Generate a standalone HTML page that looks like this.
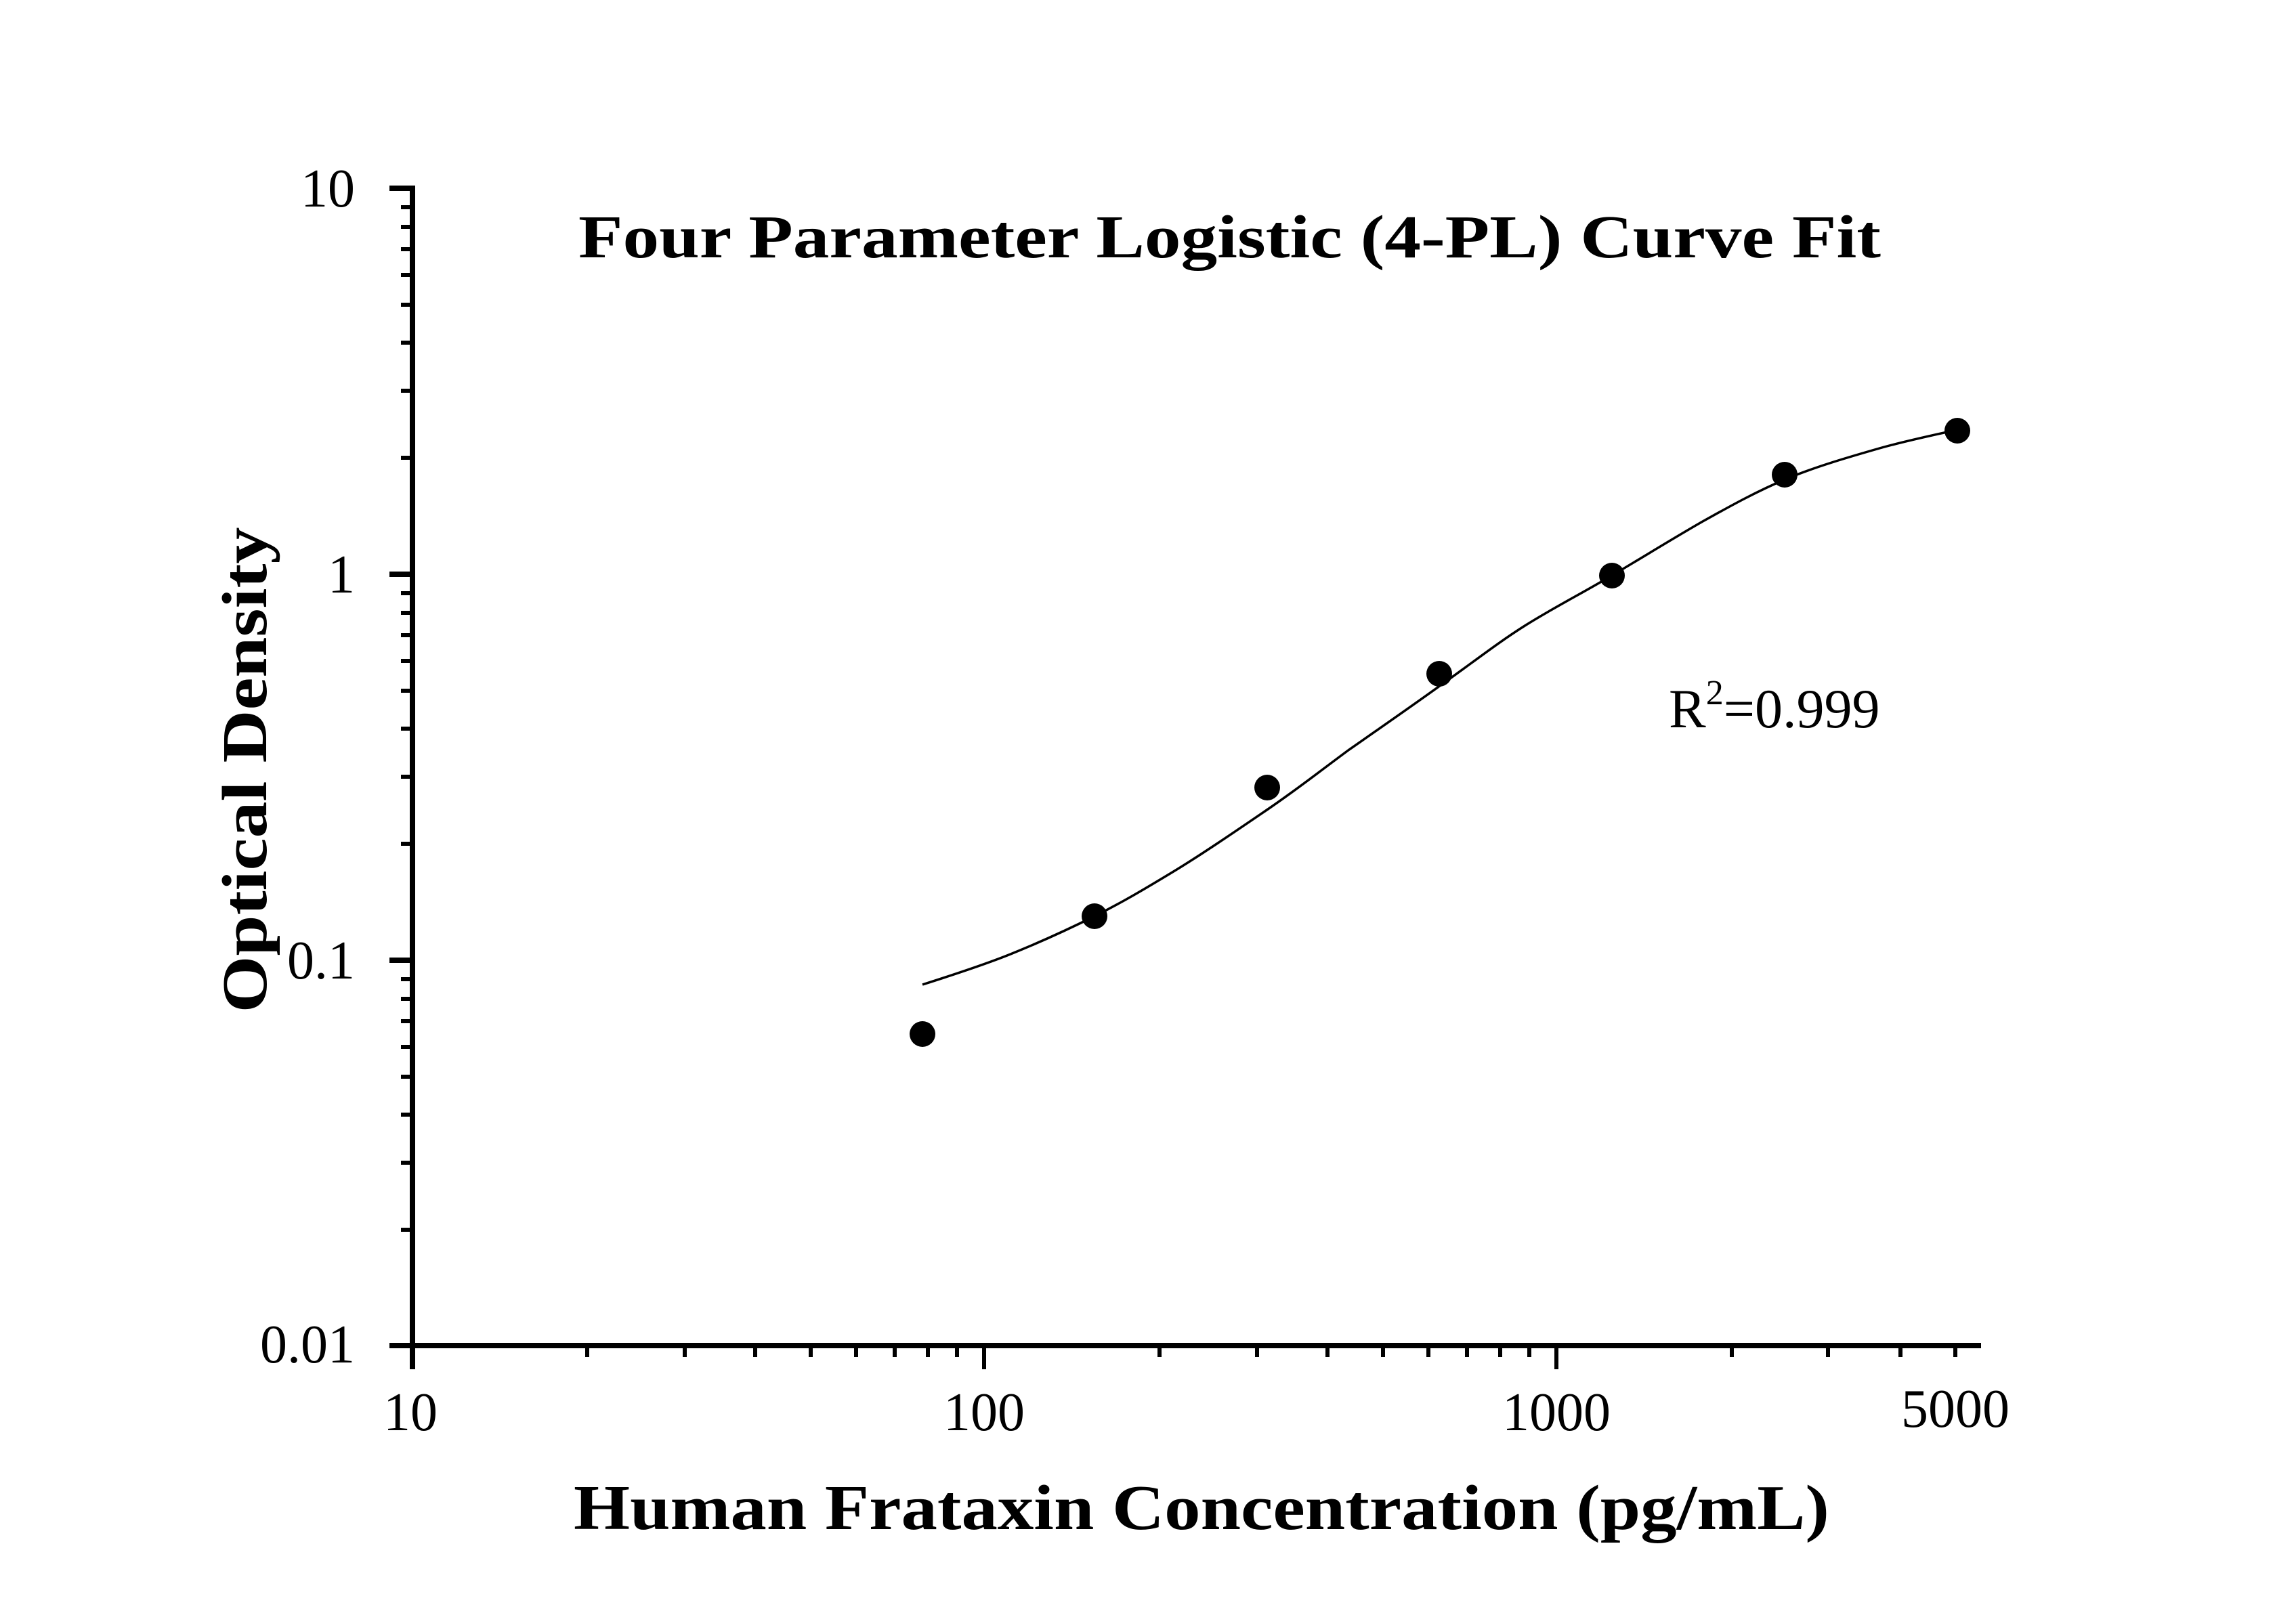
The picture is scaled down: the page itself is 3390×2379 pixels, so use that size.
<!DOCTYPE html>
<html><head><style>html,body{margin:0;padding:0;background:#fff}svg{display:block}</style></head>
<body>
<svg width="3390" height="2379" viewBox="0 0 3390 2379" xmlns="http://www.w3.org/2000/svg">
<g stroke="#000" stroke-width="8" fill="none">
<line x1="609" y1="274" x2="609" y2="2022"/>
<line x1="575" y1="1987" x2="2925" y2="1987"/>
<line x1="575" y1="278" x2="609" y2="278"/>
<line x1="575" y1="848" x2="609" y2="848"/>
<line x1="575" y1="1418" x2="609" y2="1418"/>
</g>
<g stroke="#000" stroke-width="6" fill="none">
<path d="
M592 306H609 M592 335H609 M592 368H609 M592 406H609 M592 450H609 M592 506H609 M592 577H609 M592 676H609
M592 876H609 M592 905H609 M592 938H609 M592 976H609 M592 1020H609 M592 1076H609 M592 1147H609 M592 1246H609
M592 1446H609 M592 1475H609 M592 1508H609 M592 1546H609 M592 1590H609 M592 1646H609 M592 1717H609 M592 1816H609
M1453 1987V2022 M2298 1987V2022
M867 1987V2004 M1011 1987V2004 M1115 1987V2004 M1197 1987V2004 M1264 1987V2004 M1321 1987V2004 M1370 1987V2004 M1413 1987V2004
M1712 1987V2004 M1856 1987V2004 M1960 1987V2004 M2042 1987V2004 M2109 1987V2004 M2166 1987V2004 M2215 1987V2004 M2258 1987V2004
M2557 1987V2004 M2699 1987V2004 M2806 1987V2004 M2887 1987V2004"/>
</g>
<path d="M1362 1454 C1384 1447 1450 1426 1492 1409 C1534 1392 1576 1373 1616 1353 C1656 1333 1688 1314 1731 1288 C1774 1262 1828 1225 1872 1195 C1916 1165 1950 1138 1992 1107 C2035 1077 2084 1043 2127 1012 C2171 981 2210 950 2253 923 C2296 896 2340 874 2383 848 C2427 822 2472 794 2514 770 C2557 746 2595 725 2638 707 C2681 689 2733 674 2775 662 C2817 650 2872 639 2892 634" stroke="#000" stroke-width="3.5" fill="none"/>
<g fill="#000">
<circle cx="1362" cy="1527" r="19"/>
<circle cx="1616" cy="1353" r="19"/>
<circle cx="1871" cy="1163" r="19"/>
<circle cx="2125" cy="995" r="19"/>
<circle cx="2380" cy="850" r="19"/>
<circle cx="2635" cy="701" r="19"/>
<circle cx="2890" cy="636" r="19"/>
</g>
<g font-family="Liberation Serif, serif" font-size="80" fill="#000">
<text x="524" y="305" text-anchor="end">10</text>
<text x="524" y="875" text-anchor="end">1</text>
<text x="524" y="1445" text-anchor="end">0.1</text>
<text x="524" y="2012" text-anchor="end">0.01</text>
<text x="606" y="2112" text-anchor="middle">10</text>
<text x="1453" y="2112" text-anchor="middle">100</text>
<text x="2298" y="2112" text-anchor="middle">1000</text>
<text x="2887" y="2107" text-anchor="middle">5000</text>
<text x="2464" y="1074" font-size="82">R<tspan font-size="52" dy="-34">2</tspan><tspan dy="34">=0.999</tspan></text>
</g>
<g font-family="Liberation Serif, serif" font-weight="bold" fill="#000">
<text x="854" y="380" font-size="90" textLength="1923" lengthAdjust="spacingAndGlyphs">Four Parameter Logistic (4-PL) Curve Fit</text>
<text x="847" y="2258" font-size="94" textLength="1854" lengthAdjust="spacingAndGlyphs">Human Frataxin Concentration (pg/mL)</text>
<text transform="translate(393,1137) rotate(-90)" text-anchor="middle" font-size="94" textLength="717" lengthAdjust="spacingAndGlyphs">Optical Density</text>
</g>
</svg>
</body></html>
